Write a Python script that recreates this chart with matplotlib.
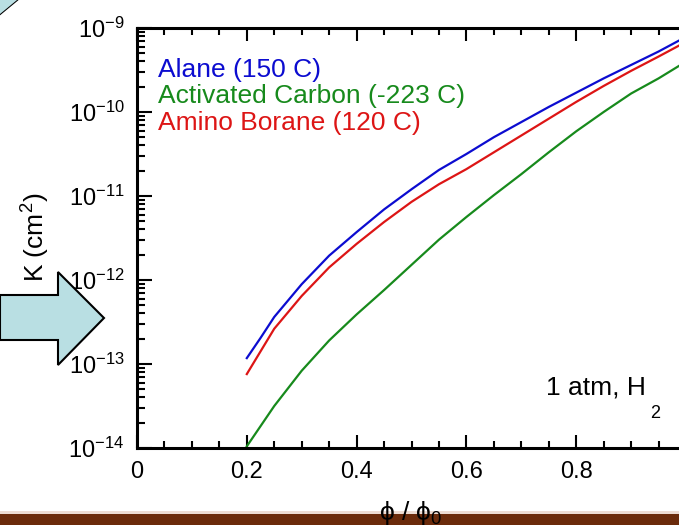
import numpy as np
import matplotlib
matplotlib.use("Agg")
import matplotlib.pyplot as plt
from matplotlib.patches import Polygon, Rectangle
from matplotlib.ticker import LogLocator, MultipleLocator, NullFormatter

plt.rcParams.update({"font.family": ["Liberation Sans", "DejaVu Sans"],
    "mathtext.fontset": "custom", "mathtext.rm": "Liberation Sans",
    "mathtext.it": "Liberation Sans:italic", "axes.unicode_minus": False})

W, H = 679, 525

# phi/phi0 and log10(K)
phi = [0.2, 0.225, 0.25, 0.3, 0.35, 0.4, 0.45, 0.5, 0.55, 0.6, 0.65, 0.7, 0.75, 0.8, 0.85, 0.9, 0.95, 0.99]
logk_alane = [-12.93, -12.69, -12.44, -12.05, -11.71, -11.43, -11.16, -10.92, -10.69, -10.50,
              -10.30, -10.12, -9.94, -9.77, -9.60, -9.44, -9.28, -9.14]
logk_carbon = [-13.98, -13.74, -13.50, -13.08, -12.72, -12.41, -12.12, -11.82, -11.52, -11.25,
               -10.99, -10.74, -10.48, -10.23, -10.00, -9.78, -9.60, -9.44]
logk_borane = [-13.12, -12.85, -12.58, -12.19, -11.85, -11.57, -11.31, -11.07, -10.86, -10.68,
               -10.48, -10.28, -10.08, -9.88, -9.69, -9.51, -9.34, -9.20]
labels = ["Alane (150 C)", "Activated Carbon (-223 C)", "Amino Borane (120 C)"]
colors = ["#0c0cd0", "#178a1c", "#dd1515"]

fig = plt.figure(figsize=(W / 100, H / 100), dpi=100)
fig.patch.set_facecolor("white")

def fx(x): return x / W
def fy(y): return 1 - y / H

ax = fig.add_axes([fx(137), fy(448), (686 - 137) / W, (448 - 28) / H])
for lk, c in zip([logk_alane, logk_carbon, logk_borane], colors):
    ax.plot(phi, 10 ** np.array(lk), color=c, lw=1.6)

ax.set_yscale("log")
ax.set_xlim(0, 1)
ax.set_ylim(1e-14, 1e-9)
ax.xaxis.set_major_locator(MultipleLocator(0.2))
ax.xaxis.set_minor_locator(MultipleLocator(0.05))
ax.xaxis.set_major_formatter(lambda v, p: "0" if v == 0 else ("" if v > 0.95 else f"{v:.1f}"))
ax.yaxis.set_major_locator(LogLocator(base=10, numticks=10))
ax.yaxis.set_minor_locator(LogLocator(base=10, subs=np.arange(2, 10), numticks=10))
ax.yaxis.set_major_formatter(lambda v, p: "10$^{%d}$" % round(np.log10(v)))
ax.yaxis.set_minor_formatter(NullFormatter())
for s in ax.spines.values():
    s.set_linewidth(2.2)
ax.spines["right"].set_visible(False)
ax.tick_params(which="both", direction="in", top=True, right=False, width=1.5, labelsize=17)
ax.tick_params(axis="x", which="major", length=9.5, pad=9)
ax.tick_params(axis="x", which="minor", length=5)
ax.tick_params(axis="y", which="major", length=11, pad=9)
ax.tick_params(axis="y", which="minor", length=6)

# legend as coloured text
for i, (lab, c) in enumerate(zip(labels, colors)):
    fig.text(fx(158), fy(77 + 26.5 * i), lab, color=c, fontsize=19, va="baseline")

fig.text(fx(546), fy(395), "1 atm, H", fontsize=19, va="baseline")
fig.text(fx(650), fy(418), "2", fontsize=13, va="baseline")

fig.text(fx(36), fy(237), "K (cm$^2$)", fontsize=19, rotation=90, ha="center", va="center")

# slide decorations
fig.patches.append(Rectangle((0, 0), 1, fy(514), transform=fig.transFigure,
                             facecolor="#6b2b0b", edgecolor="none", zorder=1))
fig.patches.append(Rectangle((0, fy(514)), 1, 3 / H, transform=fig.transFigure,
                             facecolor="#eddcd3", edgecolor="none", zorder=1))
arrow = [(0, 295), (58, 295), (58, 272), (104, 318), (58, 365), (58, 340), (0, 340)]
fig.patches.append(Polygon([(fx(a), fy(b)) for a, b in arrow], closed=True,
                           transform=fig.transFigure, facecolor="#b9dfe3",
                           edgecolor="black", lw=1.5, zorder=2))
corner = [(0, 0), (17, 0), (0, 14)]
fig.patches.append(Polygon([(fx(a), fy(b)) for a, b in corner], closed=True,
                           transform=fig.transFigure, facecolor="#b9dfe3",
                           edgecolor="none", zorder=2))
fig.lines.append(plt.Line2D([fx(0), fx(17)], [fy(14), fy(0)], transform=fig.transFigure,
                            color="black", lw=1.5))

fig.text(fx(411), fy(513), "ϕ / ϕ$_0$", fontsize=19, ha="center", va="center", zorder=5)

fig.savefig("out.png", dpi=100)
